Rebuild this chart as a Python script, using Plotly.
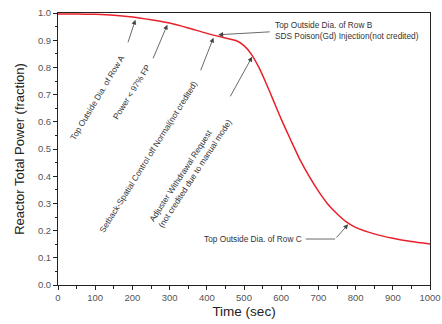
import plotly.graph_objects as go

time_s = [0, 50, 100, 150, 200, 250, 300, 350, 400, 450, 480, 500, 520, 540, 560, 580,
          600, 625, 650, 675, 700, 725, 750, 775, 800, 850, 900, 950, 1000]
power = [0.996, 0.996, 0.995, 0.992, 0.985, 0.975, 0.963, 0.945, 0.925, 0.908, 0.898,
         0.880, 0.848, 0.800, 0.740, 0.675, 0.610, 0.535, 0.462, 0.400, 0.345, 0.298,
         0.262, 0.232, 0.212, 0.188, 0.172, 0.160, 0.151]

x_ticks = list(range(0, 1001, 100))
y_ticks = [round(i * 0.1, 1) for i in range(11)]

FONT = "Liberation Sans, Arial, sans-serif"
TXT = "#333333"
ARR = "#444444"
FS = 8.3

fig = go.Figure()
fig.add_trace(go.Scatter(x=time_s, y=power, mode="lines", line=dict(color="#e8202a", width=1.5, shape="spline", smoothing=0.6),
                         showlegend=False, hoverinfo="skip"))

ann = []
rot_texts = [
    ("Top Outside Dia. of Row A", 105, 0.687, -59),
    ("Power < 97% FP", 197, 0.711, -58),
    ("Setback-Spatial Control off Normal(not credited)", 242, 0.471, -58),
    ("Adjuster Withdrawal Request<br>(not credited due to manual mode)", 356, 0.421, -57),
]
for t, x, y, ang in rot_texts:
    ann.append(dict(x=x, y=y, xref="x", yref="y", text=t, showarrow=False, textangle=ang, align="left",
                    font=dict(family=FONT, size=FS, color=TXT), xanchor="center", yanchor="middle"))

ann.append(dict(x=579, y=0.935, xref="x", yref="y", xanchor="left", yanchor="middle", align="left",
                text="Top Outside Dia. of Row B<br>SDS Poison(Gd) Injection(not credited)", showarrow=False,
                font=dict(family=FONT, size=FS, color=TXT)))
ann.append(dict(x=525, y=0.169, xref="x", yref="y", text="Top Outside Dia. of Row C", showarrow=False,
                font=dict(family=FONT, size=FS, color=TXT)))

arrows = [
    (187, 0.887, 208, 0.975),
    (254, 0.828, 294, 0.957),
    (382, 0.784, 418, 0.909),
    (461, 0.688, 522, 0.839),
    (573, 0.931, 431, 0.920),
    (745, 0.169, 780, 0.223),
]
for ax_, ay_, x, y in arrows:
    ann.append(dict(x=x, y=y, ax=ax_, ay=ay_, xref="x", yref="y", axref="x", ayref="y", text="",
                    showarrow=True, arrowhead=2, arrowsize=1.2, arrowwidth=0.8, arrowcolor=ARR, standoff=0))

fig.add_shape(type="line", x0=666, y0=0.169, x1=745, y1=0.169, xref="x", yref="y",
              line=dict(color=ARR, width=0.8))

fig.update_layout(
    width=442, height=324,
    margin=dict(l=58, r=12, t=13, b=39),
    paper_bgcolor="white", plot_bgcolor="white",
    annotations=ann,
    font=dict(family=FONT, color=TXT),
)
fig.update_xaxes(range=[0, 1000], tickvals=x_ticks, ticktext=[str(v) for v in x_ticks], automargin=False,
                 showgrid=False, zeroline=False, showline=True, linecolor="#222", linewidth=1, mirror=True,
                 ticks="outside", ticklen=4, tickcolor="#222",
                 minor=dict(dtick=50, ticks="outside", ticklen=2.5, tickcolor="#222"),
                 tickfont=dict(size=9.5, color="#555"),
                 title=dict(text="Time (sec)", font=dict(size=13.5, color="#222"), standoff=4))
fig.update_yaxes(range=[0, 1], tickvals=y_ticks, ticktext=[f"{v:.1f}" for v in y_ticks], automargin=False,
                 showgrid=False, zeroline=False, showline=True, linecolor="#222", linewidth=1, mirror=True,
                 ticks="outside", ticklen=4, tickcolor="#222",
                 minor=dict(dtick=0.05, ticks="outside", ticklen=2.5, tickcolor="#222"),
                 tickfont=dict(size=9.5, color="#555"),
                 title=dict(text="Reactor Total Power (fraction)", font=dict(size=13, color="#222"), standoff=10))

fig.write_html("out.html", config={"displayModeBar": False},
               post_script="document.body.style.margin='0px';document.body.style.overflow='hidden';")
